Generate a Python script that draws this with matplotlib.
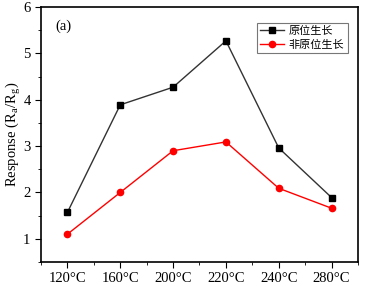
import matplotlib.pyplot as plt
from matplotlib.ticker import MultipleLocator

plt.rcParams['font.family'] = ['Liberation Serif', 'Noto Sans CJK SC']
plt.rcParams['mathtext.fontset'] = 'stix'

temps = ['120°C', '160°C', '200°C', '220°C', '240°C', '280°C']
in_situ = [1.57, 3.89, 4.27, 5.27, 2.96, 1.89]
ex_situ = [1.1, 2.0, 2.9, 3.09, 2.09, 1.66]

fig = plt.figure(figsize=(3.73, 2.87), dpi=100)
ax = fig.add_axes([41/373, 1 - 262/287, 317/373, 255/287])

x = range(len(temps))
ax.plot(x, in_situ, color='#333333', lw=1, marker='s', ms=4.5,
        mfc='black', mec='black', label='原位生长')
ax.plot(x, ex_situ, color='red', lw=1, marker='o', ms=4.5,
        mfc='red', mec='red', label='非原位生长')

ax.set_xlim(-0.5, 5.5)
ax.set_ylim(0.5, 6)
ax.set_xticks(list(x))
ax.set_xticklabels(temps)
ax.xaxis.set_minor_locator(MultipleLocator(0.5))
ax.yaxis.set_major_locator(MultipleLocator(1))
ax.yaxis.set_minor_locator(MultipleLocator(0.5))
ax.tick_params(which='major', length=4, labelsize=10.5)
ax.tick_params(which='minor', length=2)
for s in ax.spines.values():
    s.set_linewidth(1.2)
ax.set_ylabel(r'Response (R$_\mathregular{a}$/R$_\mathregular{g}$)', fontsize=10.5, labelpad=0.5)
ax.text(0.045, 0.95, '(a)', transform=ax.transAxes, fontsize=10.5, va='top')

leg = ax.legend(loc='upper right', bbox_to_anchor=(0.985, 0.96),
                prop={'family': ['Noto Sans CJK SC'], 'size': 8},
                fancybox=False, edgecolor='#555555', handlelength=2.2,
                borderpad=0.3, labelspacing=0.3, handletextpad=0.4)
leg.get_frame().set_linewidth(0.8)

fig.savefig('out.png', dpi=100)
